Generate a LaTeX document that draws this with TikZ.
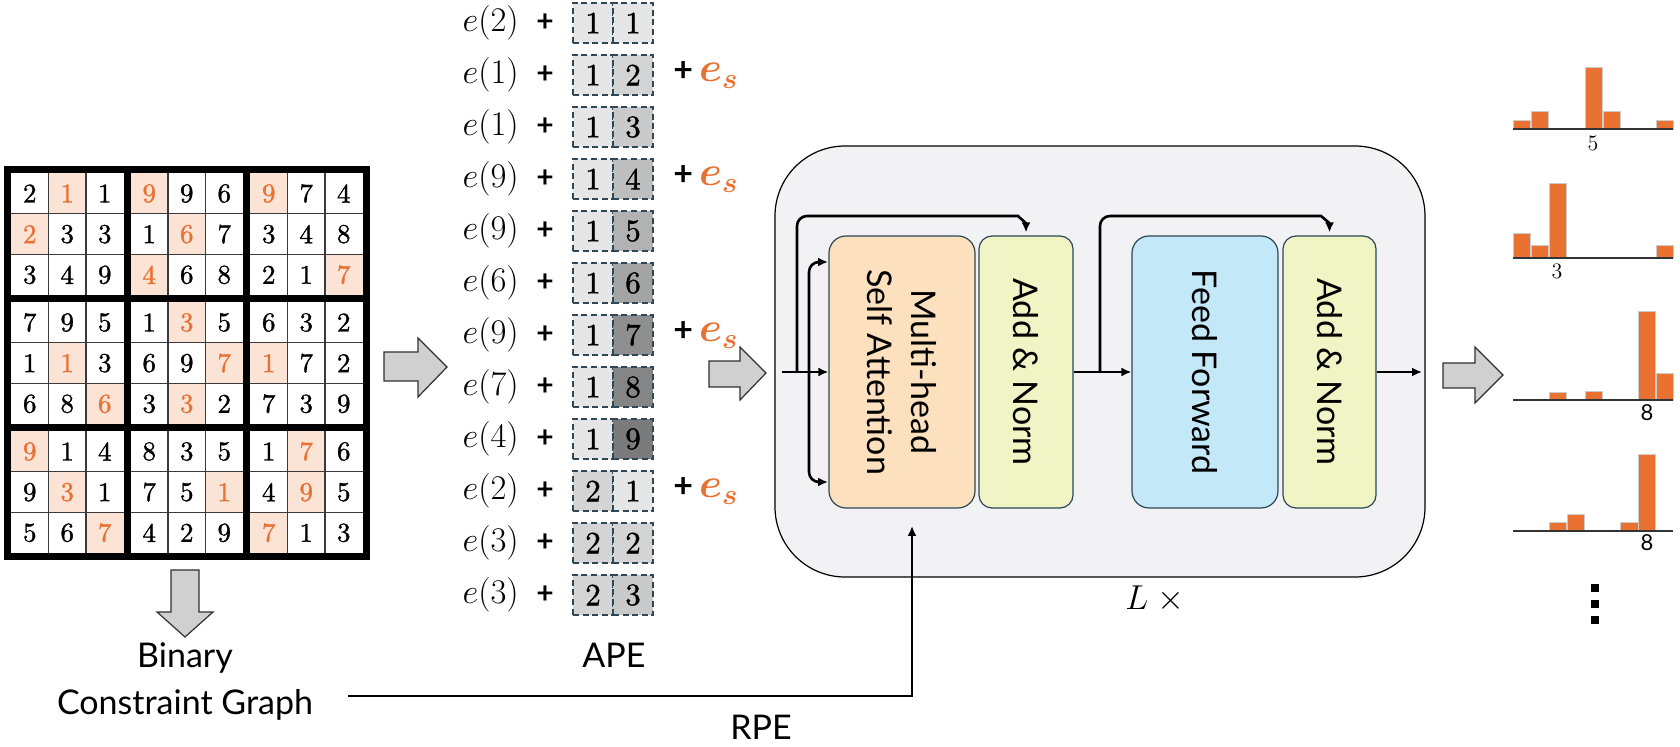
\documentclass[tikz,border=0pt]{standalone}
\usepackage{fontspec}
\usepackage{bm}
\newfontfamily\lab{Lato}
\newfontfamily\serifdig{lmroman10-regular.otf}[FakeBold=1.2]
\usetikzlibrary{arrows.meta}

\definecolor{hlorange}{HTML}{E97132}
\definecolor{hlfill}{HTML}{FBE3D6}
\definecolor{gridthin}{HTML}{3A3A3A}
\definecolor{mhsafill}{HTML}{FDE0BE}
\definecolor{addfill}{HTML}{F1F4C4}
\definecolor{fffill}{HTML}{C3E8F7}
\definecolor{boxedge}{HTML}{2D4654}
\definecolor{blockfill}{HTML}{F2F2F4}
\definecolor{arrowgray}{HTML}{D0D0D0}
\definecolor{arrowedge}{HTML}{303030}
\definecolor{dashcol}{HTML}{2F4858}
\definecolor{barcol}{HTML}{E97132}
\definecolor{apeg1}{HTML}{E6E6E6}
\definecolor{apeg2}{HTML}{D4D4D4}
\definecolor{apeg3}{HTML}{CACACA}
\definecolor{apeg4}{HTML}{BEBEBE}
\definecolor{apeg5}{HTML}{B2B2B2}
\definecolor{apeg6}{HTML}{A4A4A4}
\definecolor{apeg7}{HTML}{8F8F8F}
\definecolor{apeg8}{HTML}{858585}
\definecolor{apeg9}{HTML}{7B7B7B}

\tikzset{
  conn/.style={line width=1.3pt, -{Latex[length=5pt,width=4.5pt]}},
  twoway/.style={line width=1.3pt, {Latex[length=5pt,width=4.5pt]}-{Latex[length=5pt,width=4.5pt]}},
  blockarrow/.style={fill=arrowgray, draw=arrowedge, line width=0.6pt, line join=miter},
  stage/.style={draw=boxedge, line width=0.6pt, inner sep=0pt, minimum height=136pt},
  lbl/.style={font=\lab\fontsize{17}{22}\selectfont, inner sep=0pt},
  digit/.style={font=\serifdig\fontsize{13.5}{16}\selectfont, inner sep=0pt},
  apecell/.style={draw=dashcol, line width=0.6pt, dash pattern=on 3pt off 1.8pt,
    minimum width=20pt, minimum height=20pt, inner sep=0pt, font=\serifdig\fontsize{15.5}{18}\selectfont},
  embtext/.style={font=\fontsize{18}{21}\selectfont, inner sep=0pt},
  plustext/.style={font=\lab\bfseries\fontsize{15}{18}\selectfont, inner sep=0pt},
  bar/.style={fill=barcol, draw=black!20, line width=0.4pt},
  axisline/.style={draw=black!80, line width=1pt},
  histlbl/.style={font=\fontsize{11}{13}\selectfont, inner sep=0pt},
  histlblsf/.style={font=\lab\fontsize{11}{13}\selectfont, inner sep=0pt}
}

\begin{document}
\begin{tikzpicture}[x=0.5pt,y=-0.5pt]
\useasboundingbox (0,0) rectangle (1680,747);

% ---------------- Sudoku board ----------------
\fill[black] (4,166) rectangle (369.5,560);
\foreach \bx in {0,1,2}{
  \foreach \by in {0,1,2}{
    \fill[white] ({11+119.5*\bx},{173+129*\by}) rectangle ++(112.5,122);
  }
}
\foreach \rowlist [count=\r from 0] in {
  {2/0,1/1,1/0,9/1,9/0,6/0,9/1,7/0,4/0},
  {2/1,3/0,3/0,1/0,6/1,7/0,3/0,4/0,8/0},
  {3/0,4/0,9/0,4/1,6/0,8/0,2/0,1/0,7/1},
  {7/0,9/0,5/0,1/0,3/1,5/0,6/0,3/0,2/0},
  {1/0,1/1,3/0,6/0,9/0,7/1,1/1,7/0,2/0},
  {6/0,8/0,6/1,3/0,3/1,2/0,7/0,3/0,9/0},
  {9/1,1/0,4/0,8/0,3/0,5/0,1/0,7/1,6/0},
  {9/0,3/1,1/0,7/0,5/0,1/1,4/0,9/1,5/0},
  {5/0,6/0,7/1,4/0,2/0,9/0,7/1,1/0,3/0}}{
  \foreach \d/\h [count=\c from 0] in \rowlist {
    \pgfmathsetmacro\cx{11+119.5*int(\c/3)+37.5*(\c-3*int(\c/3))}
    \pgfmathsetmacro\cy{173+129*int(\r/3)+(122/3)*(\r-3*int(\r/3))}
    \ifnum\h=1
      \fill[hlfill] (\cx,\cy) rectangle ++(37.5,40.667);
      \def\dcol{hlorange}
    \else
      \def\dcol{black}
    \fi
    \node[digit, text=\dcol] (s\r-\c) at ({\cx+18.75},{\cy+20.5}) {\d};
  }
}
\foreach \bx in {0,1,2}{
  \foreach \by in {0,1,2}{
    \pgfmathsetmacro\xa{11+119.5*\bx}
    \pgfmathsetmacro\ya{173+129*\by}
    \draw[gridthin, line width=0.6pt] ({\xa+37.5},\ya) -- ++(0,122);
    \draw[gridthin, line width=0.6pt] ({\xa+75},\ya) -- ++(0,122);
    \draw[gridthin, line width=0.6pt] (\xa,{\ya+40.667}) -- ++(112.5,0);
    \draw[gridthin, line width=0.6pt] (\xa,{\ya+81.333}) -- ++(112.5,0);
  }
}

% board -> graph, board -> APE
\draw[blockarrow] (171,570) -- (199,570) -- (199,612) -- (213,612) -- (185,637)
  -- (157,612) -- (171,612) -- cycle;
\draw[blockarrow] (384,352) -- (418,352) -- (418,338) -- (447,367) -- (418,397)
  -- (418,381) -- (384,381) -- cycle;

\node[lbl, align=center, font=\lab\fontsize{17}{23.5}\selectfont] (bcg) at (185,682)
  {Binary\\Constraint Graph};

% ---------------- Absolute positional encoding ----------------
\foreach \v/\a/\b [count=\i from 0] in
  {2/1/1,1/1/2,1/1/3,9/1/4,9/1/5,6/1/6,9/1/7,7/1/8,4/1/9,2/2/1,3/2/2,3/2/3}{
  \node[embtext, anchor=east] (e\i) at (519,{23+52*\i}) {$e(\v)$};
  \node[plustext] (ep\i) at (545,{23+52*\i}) {+};
  \node[apecell, fill=apeg\a] (pa\i) at (593,{23+52*\i}) {\a};
  \node[apecell, fill=apeg\b] (pb\i) at (633,{23+52*\i}) {\b};
}
\foreach \i in {1,3,6,9}{
  \node[anchor=west, inner sep=0pt] (es\i) at (673,{23+52*\i})
    {{\lab\bfseries\fontsize{17}{20}\selectfont +}\hspace{3pt}{\fontsize{20}{22}\selectfont\color{hlorange}$\bm{e_s}$}};
}
\node[lbl] (ape) at (614,655) {APE};

\draw[blockarrow] (709,361) -- (740,361) -- (740,347) -- (766,373) -- (740,400)
  -- (740,387) -- (709,387) -- cycle;

% ---------------- Transformer layer ----------------
\node[draw=black, line width=0.6pt, fill=blockfill, rounded corners=35pt,
  minimum width=325pt, minimum height=215.5pt, inner sep=0pt] (blk) at (1100,361.5) {};
\node[stage, fill=mhsafill, rounded corners=8.5pt, minimum width=73pt] (mhsa) at (902,372) {};
\node[stage, fill=addfill, rounded corners=6.5pt, minimum width=47pt] (add1) at (1026,372) {};
\node[stage, fill=fffill, rounded corners=8.5pt, minimum width=73pt] (ff) at (1205,372) {};
\node[stage, fill=addfill, rounded corners=6.5pt, minimum width=46.5pt] (add2) at (1329.5,372) {};

\node[lbl, rotate=-90, align=center] (mhsaT) at (mhsa.center) {Multi-head\\Self Attention};
\node[lbl, rotate=-90] (add1T) at (add1.center) {Add \& Norm};
\node[lbl, rotate=-90] (ffT) at (ff.center) {Feed Forward};
\node[lbl, rotate=-90] (add2T) at (add2.center) {Add \& Norm};

\coordinate (inStart) at (782,372);
\coordinate (skipA) at (797,372);
\coordinate (kTop) at (828,262);
\coordinate (kMid) at (809,372);
\coordinate (kBot) at (828,482);
\coordinate (skipB) at (1100,372);
\coordinate (outEnd) at (1422,372);

\draw[conn] (inStart) -- (mhsa.west);
\draw[conn, rounded corners=5pt] (skipA) |- (1008,216) to[out=0,in=90] ([yshift=1.5pt]add1.north);
\draw[twoway, rounded corners=5pt] (kTop) -| (kMid) |- (kBot);
\draw[conn] (add1.east) -- (ff.west);
\draw[conn, rounded corners=5pt] (skipB) |- (1311,216) to[out=0,in=90] ([yshift=1.5pt]add2.north);
\draw[conn] (add2.east) -- (outEnd);

\node[font=\fontsize{16}{19}\selectfont, inner sep=0pt] (lx) at (1155,599) {$L\;\times$};

% relative positional encoding from the constraint graph
\coordinate (rpeStart) at (348,696);
\coordinate (rpeEnd) at (912,526);
\draw[conn] (rpeStart) -| (rpeEnd);
\node[lbl] (rpe) at (761,727) {RPE};

\draw[blockarrow] (1443,363) -- (1475,363) -- (1475,347) -- (1503,375) -- (1475,403)
  -- (1475,388) -- (1443,388) -- cycle;

% ---------------- Output distributions ----------------
\foreach \k/\hh in {1/9,2/18,5/62,6/18,9/9}
  \fill[bar] ({1513+17.9*(\k-1)+0.4},129) rectangle ++(17.1,-\hh);
\draw[axisline] (1513,129) -- (1673,129);
\node[histlbl] (h1) at (1593,143) {5};

\foreach \k/\hh in {1/25,2/13,3/75,9/13}
  \fill[bar] ({1513+17.9*(\k-1)+0.4},258) rectangle ++(17.1,-\hh);
\draw[axisline] (1513,258) -- (1673,258);
\node[histlbl] (h2) at (1557,271) {3};

\foreach \k/\hh in {3/8,5/9,8/89,9/27}
  \fill[bar] ({1513+17.9*(\k-1)+0.4},400) rectangle ++(17.1,-\hh);
\draw[axisline] (1513,400) -- (1673,400);
\node[histlblsf] (h3) at (1647,413) {8};

\foreach \k/\hh in {3/9,4/17,7/9,8/77}
  \fill[bar] ({1513+17.9*(\k-1)+0.4},531) rectangle ++(17.1,-\hh);
\draw[axisline] (1513,531) -- (1673,531);
\node[histlblsf] (h4) at (1647,543) {8};

\foreach \yy in {584,600,616}
  \fill[black] (1591,\yy) rectangle ++(8,8);

\end{tikzpicture}
\end{document}
